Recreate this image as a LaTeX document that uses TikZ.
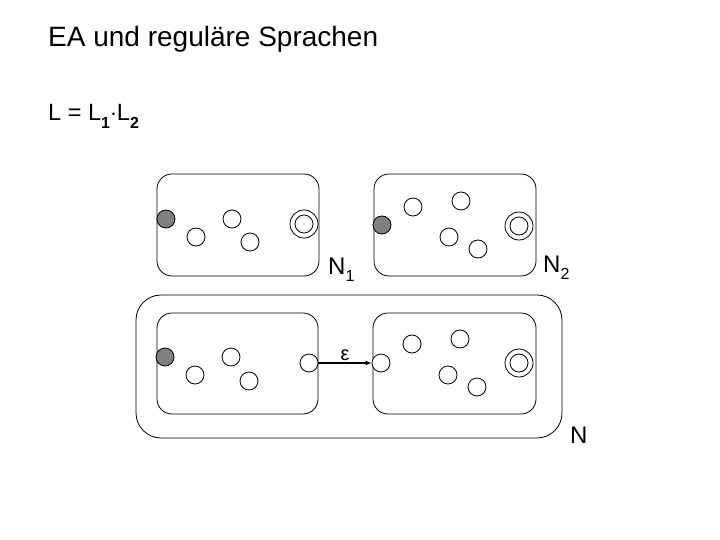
\documentclass[tikz,border=0pt]{standalone}
\usepackage{fontspec}
\setmainfont{Liberation Sans}
\usetikzlibrary{arrows.meta}
\begin{document}
\begin{tikzpicture}[x=1pt,y=-1pt,
  st/.style={circle,draw,line width=0.8pt,minimum size=18pt,inner sep=0pt,fill=white},
  startst/.style={st,fill=gray!75!black!80},
  accst/.style={circle,draw,line width=0.8pt,minimum size=28pt,inner sep=0pt,fill=white,
     append after command={node[circle,draw,line width=0.8pt,minimum size=18pt,inner sep=0pt] at (\tikzlastnode.center) {}}},
  boxst/.style={draw,line width=0.8pt,rounded corners=15pt},
  lbl/.style={font=\fontsize{24}{26}\selectfont,inner sep=0pt,anchor=base west}
]
\useasboundingbox (0,0) rectangle (720,540);
\node[anchor=base west,inner sep=0pt,font=\fontsize{28}{32}\selectfont] (title) at (48,47) {EA und reguläre Sprachen};
\node[anchor=base west,inner sep=0pt,font=\fontsize{23.5}{26}\selectfont] (lang) at (48,121) {L = L\raisebox{-0.3em}{\fontsize{16}{17}\selectfont\textbf{1}}$\cdot$L\raisebox{-0.3em}{\fontsize{16}{17}\selectfont\textbf{2}}};
% boxes
\draw[boxst] (157,174) rectangle (319,276);
\draw[boxst] (374,174) rectangle (536,276);
\draw[draw,line width=0.8pt,rounded corners=25pt] (136,295) rectangle (562,438);
\draw[boxst] (157,313) rectangle (318,414);
\draw[boxst] (373,313) rectangle (536,414);
% N1
\node[startst] (a0) at (166,219) {};
\node[st] (a1) at (196,237) {};
\node[st] (a2) at (232,219) {};
\node[st] (a3) at (250,242) {};
\node[accst] (a4) at (304,224) {};
% N2
\node[startst] (b0) at (382,225) {};
\node[st] (b1) at (413,207) {};
\node[st] (b2) at (461,201) {};
\node[st] (b3) at (449,237) {};
\node[st] (b4) at (478,249) {};
\node[accst] (b5) at (519,226) {};
% N
\node[startst] (c0) at (165,357) {};
\node[st] (c1) at (195,375) {};
\node[st] (c2) at (231,357) {};
\node[st] (c3) at (249,381) {};
\node[st] (c4) at (309,363) {};
\node[st] (d0) at (381,363) {};
\node[st] (d1) at (412,344) {};
\node[st] (d2) at (460,339) {};
\node[st] (d3) at (448,375) {};
\node[st] (d4) at (477,387) {};
\node[accst] (d5) at (519,363) {};
\draw[line width=1.6pt,-{Latex[length=6pt,width=5pt]}] (c4) -- node[above=2pt,font=\fontsize{20}{22}\selectfont,inner sep=0pt] (eps) {ε} (d0);
% labels
\node[lbl] (n1) at (328,274) {N\raisebox{-0.3em}{\fontsize{16}{17}\selectfont 1}};
\node[lbl] (n2) at (543,272) {N\raisebox{-0.3em}{\fontsize{16}{17}\selectfont 2}};
\node[lbl] (n) at (570,443) {N};
\end{tikzpicture}
\end{document}
